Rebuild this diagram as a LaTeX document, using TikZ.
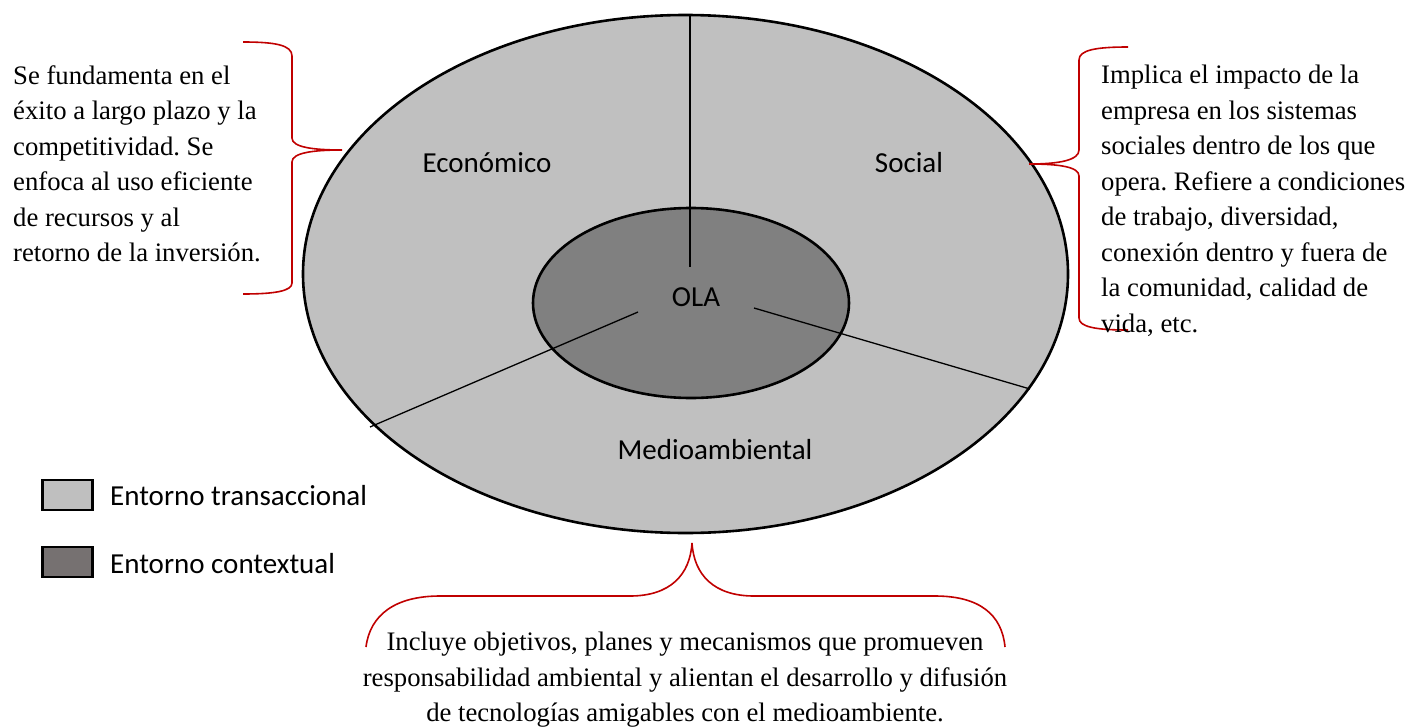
\documentclass[tikz,border=0pt]{standalone}
\usepackage{fontspec}
\setmainfont{Liberation Serif}
\newfontfamily\labelfont{Carlito}
\usetikzlibrary{shapes.geometric}
\definecolor{outerfill}{HTML}{C0C0C0}
\definecolor{innerfill}{HTML}{808080}
\definecolor{legendlight}{HTML}{BFBFBF}
\definecolor{legenddark}{HTML}{767171}
\definecolor{bracered}{HTML}{C00000}
\frenchspacing
\begin{document}
\begin{tikzpicture}[x=1pt,y=-1pt,
  ring/.style={ellipse, draw=black, line width=2.6pt, inner sep=0pt},
  spoke/.style={draw=black, line width=1.3pt},
  brace/.style={draw=bracered, line width=1.6pt},
  sector/.style={font=\labelfont\fontsize{29}{34}\selectfont, inner sep=0pt},
  para/.style={font=\fontsize{26.7}{35.5}\selectfont, inner sep=0pt},
  legendbox/.style={draw=black, line width=2.4pt, minimum width=50pt, minimum height=30pt, inner sep=0pt},
  legendtext/.style={font=\labelfont\fontsize{29}{34}\selectfont, inner sep=0pt, anchor=west}]
\useasboundingbox (0,0) rectangle (1408,728);

% outer and inner environments
\node[ring, fill=outerfill, minimum width=765pt, minimum height=518pt] (outer) at (685.5,274) {};
\node[ring, fill=innerfill, minimum width=316pt, minimum height=190pt] (inner) at (691,303) {};

% spokes separating the three dimensions
\coordinate (vtop) at (690,15);
\coordinate (vend) at (690,267);
\coordinate (lstart) at (638,312);
\coordinate (lend) at (370,427);
\coordinate (rstart) at (754,308);
\coordinate (rend) at (1030,389);
\draw[spoke] (vtop) -- (vend);
\draw[spoke] (lstart) -- (lend);
\draw[spoke] (rstart) -- (rend);

% sector labels
\node[sector] (eco) at (487,163) {Económico};
\node[sector] (soc) at (909,163) {Social};
\node[sector] (med) at (715,450) {Medioambiental};
\node[sector] (ola) at (696,297) {OLA};

% braces
\coordinate (lbtip) at (342,150);
\draw[brace] (243,42) .. controls (275,42) and (292,45) .. (292,56) -- (292,138)
  .. controls (292,147) and (312,150) .. (lbtip)
  .. controls (312,150) and (292,153) .. (292,162) -- (292,283)
  .. controls (292,291) and (275,294) .. (243,294);

\coordinate (rbtip) at (1029,164);
\draw[brace] (1128,47) .. controls (1096,47) and (1079,50) .. (1079,60) -- (1079,150)
  .. controls (1079,160) and (1060,164) .. (rbtip)
  .. controls (1060,164) and (1079,167) .. (1079,176) -- (1079,318)
  .. controls (1079,327) and (1096,330) .. (1128,330);

\coordinate (bbtip) at (692,543);
\draw[brace] (366,647) .. controls (370,615) and (395,596) .. (440,596) -- (630,596)
  .. controls (670,596) and (690,575) .. (bbtip)
  .. controls (694,575) and (714,596) .. (754,596) -- (935,596)
  .. controls (980,596) and (1002,615) .. (1005,647);

% descriptions
\node[para, anchor=north west, align=left] (ecotext) at (13,65) {Se fundamenta en el\\éxito a largo plazo y la\\competitividad. Se\\enfoca al uso eficiente\\de recursos y al\\retorno de la inversión.};
\node[para, anchor=north west, align=left] (soctext) at (1101,65) {Implica el impacto de la\\empresa en los sistemas\\sociales dentro de los que\\opera. Refiere a condiciones\\de trabajo, diversidad,\\conexión dentro y fuera de\\la comunidad, calidad de\\vida, etc.};
\node[para, anchor=north, align=center] (medtext) at (685,632) {Incluye objetivos, planes y mecanismos que promueven\\responsabilidad ambiental y alientan el desarrollo y difusión\\de tecnologías amigables con el medioambiente.};

% legend
\node[legendbox, fill=legendlight] (key1) at (67.5,495) {};
\node[legendbox, fill=legenddark] (key2) at (67.5,562) {};
\node[legendtext] (key1text) at (110,496) {Entorno transaccional};
\node[legendtext] (key2text) at (110,564) {Entorno contextual};
\end{tikzpicture}
\end{document}
